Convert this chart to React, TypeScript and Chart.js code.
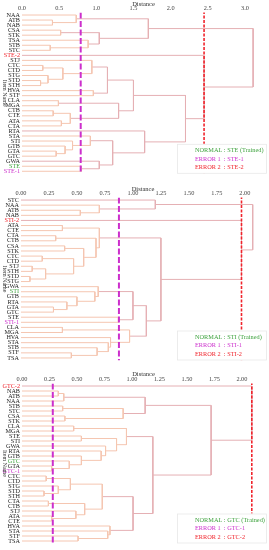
import React, { useEffect, useRef } from 'react';
import { Chart, registerables } from 'chart.js';
Chart.register(...registerables);

type Merge = [number, number, number];

// ---------- Panel 1 : STE ----------
const P1_LEAVES = ['NAA','ATB','NAB','CSA','STK','TSA','STB','STC','STE-2','STJ','CTC','CTD','STG','STD','STH','HVA','STF','CLA','MGA','CTB','CTE','ATA','CTA','RTA','STA','STI','GTB','GTA','GTC','GWA','STE','STE-1'];
const P1_MERGES: Merge[] = [
  [1,2,0.41],[0,32,0.73],[3,4,0.52],[6,7,0.38],[5,35,0.89],[34,36,1.04],[33,37,1.70],
  [10,11,0.28],[13,14,0.25],[12,40,0.35],[39,41,0.55],[9,42,0.94],[15,16,0.96],[43,44,1.15],
  [17,18,0.49],[19,20,0.42],[21,22,0.53],[47,48,0.65],[46,49,1.30],[45,50,1.50],
  [27,28,0.46],[26,52,0.58],[25,53,0.68],[24,54,0.92],[30,31,0.80],[29,56,1.04],[55,57,1.22],
  [23,58,1.65],[51,59,2.20],[8,60,2.45],[38,61,3.11]
];
const P1_TICKS = [0, 0.5, 1.0, 1.5, 2.0, 2.5, 3.0];
const P1_ERROR1 = 0.79;
const P1_ERROR2 = 2.45;
const P1_NORMAL = 'STE';

// ---------- Panel 2 : STI ----------
const P2_LEAVES = ['STC','NAA','ATB','NAB','STI-2','ATA','CTE','CTA','CTB','CSA','STK','CTC','CTD','STJ','STH','STD','STG','GWA','STI','GTB','RTA','GTA','GTC','STE','STI-1','CLA','MGA','HVA','STA','STB','STF','TSA'];
const P2_MERGES: Merge[] = [
  [2,3,0.53],[1,32,0.70],[0,33,1.20],
  [5,6,0.37],[7,8,0.31],[9,10,0.39],[11,12,0.19],[13,14,0.10],[15,16,0.08],[39,40,0.22],
  [38,41,0.47],[37,42,0.56],[36,43,0.67],[35,44,0.70],
  [21,22,0.29],[20,46,0.41],[19,47,0.50],[18,48,0.66],[17,49,0.69],[23,24,0.87],[50,51,1.00],
  [25,26,0.37],[30,31,0.45],[29,54,0.68],[28,55,0.78],[27,56,0.80],[53,57,0.97],[52,58,1.12],
  [45,59,1.25],[4,60,1.97],[34,61,2.07]
];
const P2_TICKS = [0, 0.25, 0.5, 0.75, 1.0, 1.25, 1.5, 1.75, 2.0];
const P2_ERROR1 = 0.875;
const P2_ERROR2 = 1.97;
const P2_NORMAL = 'STI';

// ---------- Panel 3 : GTC ----------
const P3_LEAVES = ['GTC-2','NAB','ATB','NAA','STB','STC','CSA','STK','CLA','MGA','STE','STI','GWA','RTA','GTB','GTC','GTA','GTC-1','CTC','CTD','STG','STD','STH','CTA','CTB','STJ','ATA','CTE','HVA','STA','STF','TSA'];
const P3_MERGES: Merge[] = [
  [1,2,0.33],[32,3,0.38],[4,5,0.37],[6,7,0.39],[34,35,0.92],[33,36,1.12],
  [8,9,0.47],[10,11,0.54],[16,17,0.27],[15,40,0.43],[14,41,0.54],[13,42,0.72],[12,43,0.76],
  [39,44,0.86],[38,45,0.95],
  [18,19,0.22],[21,22,0.20],[20,48,0.33],[47,49,0.44],[23,24,0.24],[26,27,0.27],[25,52,0.49],
  [51,53,0.57],[50,54,0.73],[30,31,0.51],[29,56,0.78],[28,57,0.80],[55,58,1.01],
  [46,59,1.19],[37,60,1.72],[0,61,2.09]
];
const P3_TICKS = [0, 0.25, 0.5, 0.75, 1.0, 1.25, 1.5, 1.75, 2.0];
const P3_ERROR1 = 0.28;
const P3_ERROR2 = 2.09;
const P3_NORMAL = 'GTC';

const FONT = '"Liberation Serif", "Times New Roman", serif';
const GREEN = '#3fa33f';
const MAGENTA = '#cc2fcc';
const RED = '#f0242c';
const LINK_LOW = '#f5c6b1';
const LINK_HIGH = '#e5b0b4';

interface PanelCfg {
  leaves: string[]; merges: Merge[]; ticks: number[]; err1: number; err2: number; normal: string;
  xMax: number; dec: number; left: number; top: number; bottom: number; height: number;
}

const PANELS: PanelCfg[] = [
  { leaves: P1_LEAVES, merges: P1_MERGES, ticks: P1_TICKS, err1: P1_ERROR1, err2: P1_ERROR2, normal: P1_NORMAL,
    xMax: 3.27, dec: 1, left: 22, top: 12.5, bottom: 173.8, height: 184 },
  { leaves: P2_LEAVES, merges: P2_MERGES, ticks: P2_TICKS, err1: P2_ERROR1, err2: P2_ERROR2, normal: P2_NORMAL,
    xMax: 2.18, dec: 2, left: 21, top: 12.5, bottom: 175.5, height: 184 },
  { leaves: P3_LEAVES, merges: P3_MERGES, ticks: P3_TICKS, err1: P3_ERROR1, err2: P3_ERROR2, normal: P3_NORMAL,
    xMax: 2.21, dec: 2, left: 22, top: 13.5, bottom: 173.5, height: 180 },
];
const TOPS = [0, 185, 370];

function leafColor(label: string, normal: string) {
  if (label === normal) return GREEN;
  if (label === normal + '-1') return MAGENTA;
  if (label === normal + '-2') return RED;
  return '#222';
}

function buildLinks(n: number, merges: Merge[]) {
  const ys: number[] = [];
  const hs: number[] = [];
  for (let i = 0; i < n; i++) { ys[i] = i; hs[i] = 0; }
  return merges.map(([a, b, d], k) => {
    ys[n + k] = (ys[a] + ys[b]) / 2;
    hs[n + k] = d;
    return { d, pts: [{ x: hs[a], y: ys[a] }, { x: d, y: ys[a] }, { x: d, y: ys[b] }, { x: hs[b], y: ys[b] }] };
  });
}

function DendroPanel({ cfg, top }: { cfg: PanelCfg; top: number }) {
  const ref = useRef<HTMLCanvasElement>(null);
  useEffect(() => {
    const n = cfg.leaves.length;
    const links = buildLinks(n, cfg.merges);
    const datasets: any[] = [
      { data: [{ x: cfg.err1, y: -0.5 }, { x: cfg.err1, y: n - 0.5 }], borderColor: MAGENTA, borderWidth: 2,
        borderDash: [6, 2.5], showLine: true, pointRadius: 0, order: 0 },
      { data: [{ x: cfg.err2, y: -0.8 }, { x: cfg.err2, y: n - 0.5 }], borderColor: RED, borderWidth: 1.6,
        borderDash: [3, 1.5], showLine: true, pointRadius: 0, order: 0 },
      ...links.map(l => ({ data: l.pts, borderColor: l.d >= 1 ? LINK_HIGH : LINK_LOW, borderWidth: 1,
        showLine: true, pointRadius: 0, order: 1 })),
    ];
    const yTitle = {
      id: 'yTitle',
      afterDraw(chart: any) {
        const { ctx, chartArea } = chart;
        ctx.save();
        ctx.translate(4.5, (chartArea.top + chartArea.bottom) / 2);
        ctx.rotate(Math.PI / 2);
        ctx.font = `6px ${FONT}`;
        ctx.fillStyle = '#333';
        ctx.textAlign = 'center';
        ctx.textBaseline = 'middle';
        ctx.fillText('Item Name', 0, 0);
        ctx.restore();
      },
    };
    const legendBox = {
      id: 'legendBox',
      afterDatasetsDraw(chart: any) {
        const { ctx, chartArea } = chart;
        const x0 = chartArea.right - 88, x1 = chartArea.right + 2;
        const y1 = chartArea.bottom, y0 = y1 - 30;
        ctx.save();
        ctx.fillStyle = '#fff';
        ctx.fillRect(x0, y0, x1 - x0, y1 - y0);
        ctx.strokeStyle = '#e8e8e8';
        ctx.lineWidth = 0.8;
        ctx.strokeRect(x0 + 0.5, y0 + 0.5, x1 - x0 - 1, y1 - y0 - 1);
        ctx.font = `6.3px ${FONT}`;
        ctx.textBaseline = 'middle';
        ctx.textAlign = 'left';
        const items: [string, string][] = [
          [`NORMAL : ${cfg.normal} (Trained)`, GREEN],
          [`ERROR 1  : ${cfg.normal}-1`, MAGENTA],
          [`ERROR 2  : ${cfg.normal}-2`, RED],
        ];
        items.forEach(([t, c], i) => {
          ctx.fillStyle = c;
          ctx.fillText(t, x0 + 18, y0 + 7 + i * 8.3);
        });
        ctx.restore();
      },
    };
    const chart = new Chart(ref.current!, {
      type: 'scatter',
      data: { datasets },
      options: {
        animation: false,
        responsive: false,
        layout: { padding: { top: 0, left: 0, right: 269 - 265, bottom: cfg.height - cfg.bottom } },
        plugins: { legend: { display: false }, tooltip: { enabled: false } },
        scales: {
          x: {
            type: 'linear', position: 'top', min: 0, max: cfg.xMax,
            afterBuildTicks: (s: any) => { s.ticks = cfg.ticks.map(v => ({ value: v })); },
            afterFit: (s: any) => { s.height = cfg.top; },
            ticks: {
              callback: (v: any) => Number(v).toFixed(cfg.dec),
              font: { family: FONT, size: 6.3 }, color: '#444', padding: 0, maxRotation: 0, autoSkip: false,
            },
            grid: { display: false, drawTicks: false },
            border: { display: false },
            title: { display: true, text: 'Distance', font: { family: FONT, size: 6.5 }, color: '#333', padding: 0 },
          },
          y: {
            type: 'linear', min: -0.5, max: n - 0.5, reverse: true,
            afterBuildTicks: (s: any) => { s.ticks = cfg.leaves.map((_, i) => ({ value: i })); },
            afterFit: (s: any) => { s.width = cfg.left; },
            ticks: {
              callback: (_v: any, i: number) => cfg.leaves[i],
              color: (c: any) => leafColor(cfg.leaves[c.index], cfg.normal),
              font: { family: FONT, size: 6.2 }, padding: 2, autoSkip: false,
            },
            grid: { display: false, drawTicks: false },
            border: { display: false },
          },
        },
      },
      plugins: [yTitle, legendBox],
    } as any);
    return () => chart.destroy();
  }, [cfg]);
  return (
    <canvas ref={ref} width={269} height={cfg.height}
      style={{ position: 'absolute', left: 0, top, width: 269, height: cfg.height }} />
  );
}

export default function App() {
  return (
    <div style={{ position: 'fixed', left: 0, top: 0, width: 269, height: 550, background: '#fff', overflow: 'hidden' }}>
      {PANELS.map((p, i) => <DendroPanel key={i} cfg={p} top={TOPS[i]} />)}
    </div>
  );
}
